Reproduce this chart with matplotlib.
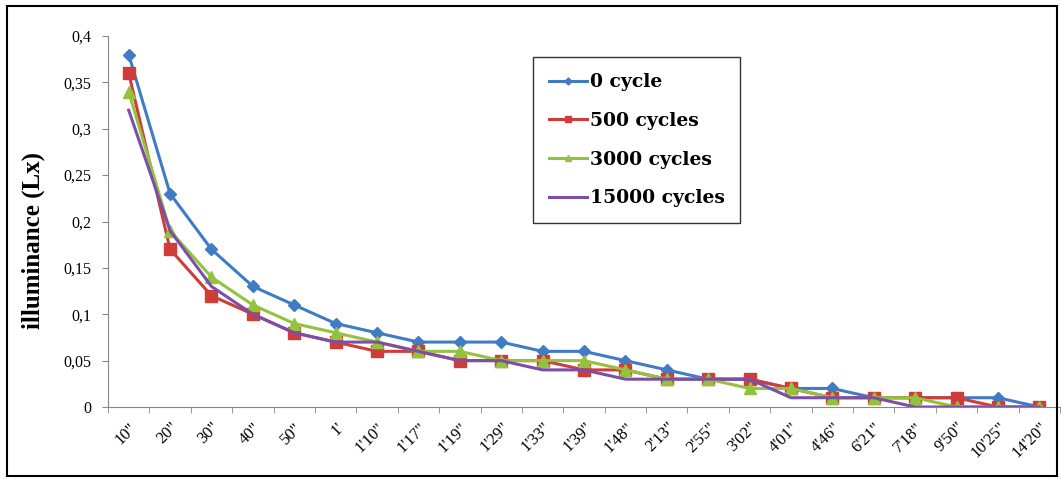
import matplotlib.pyplot as plt
from matplotlib.ticker import FuncFormatter, FixedLocator
from matplotlib.patches import Rectangle
import numpy as np

# time after switch-off
times = ['10"', '20"', '30"', '40"', '50"', "1'", "1'10\"", "1'17\"", "1'19\"", "1'29\"",
         "1'33\"", "1'39\"", "1'48\"", "2'13\"", "2'55\"", "3'02\"", "4'01\"", "4'46\"",
         "6'21\"", "7'18\"", "9'50\"", "10'25\"", "14'20\""]

cycle_0 = [0.38, 0.23, 0.17, 0.13, 0.11, 0.09, 0.08, 0.07, 0.07, 0.07, 0.06, 0.06,
           0.05, 0.04, 0.03, 0.03, 0.02, 0.02, 0.01, 0.01, 0.01, 0.01, 0.0]
cycle_500 = [0.36, 0.17, 0.12, 0.10, 0.08, 0.07, 0.06, 0.06, 0.05, 0.05, 0.05, 0.04,
             0.04, 0.03, 0.03, 0.03, 0.02, 0.01, 0.01, 0.01, 0.01, 0.0, 0.0]
cycle_3000 = [0.34, 0.19, 0.14, 0.11, 0.09, 0.08, 0.07, 0.06, 0.06, 0.05, 0.05, 0.05,
              0.04, 0.03, 0.03, 0.02, 0.02, 0.01, 0.01, 0.01, 0.0, 0.0, 0.0]
cycle_15000 = [0.32, 0.19, 0.13, 0.10, 0.08, 0.07, 0.07, 0.06, 0.05, 0.05, 0.04, 0.04,
               0.03, 0.03, 0.03, 0.03, 0.01, 0.01, 0.01, 0.0, 0.0, 0.0, 0.0]

serif = 'Liberation Serif'

fig = plt.figure(figsize=(10.61, 4.79), dpi=100)
ax = fig.add_axes([108/1061, 1 - 407/479, 952/1061, 371/479])

x = np.arange(len(times))
ax.plot(x, cycle_0, color='#3f7cc4', lw=2.2, marker='D', ms=6, label='0 cycle')
ax.plot(x, cycle_500, color='#d03c3a', lw=2.2, marker='s', ms=8, label='500 cycles')
ax.plot(x, cycle_3000, color='#93c23c', lw=2.2, marker='^', ms=8, label='3000 cycles')
ax.plot(x, cycle_15000, color='#7b4fa8', lw=2.2, label='15000 cycles')

ax.set_xlim(-0.5, len(times) - 0.5)
ax.set_ylim(0, 0.4)
ax.set_yticks(np.arange(0, 0.401, 0.05))
ax.yaxis.set_major_formatter(FuncFormatter(lambda v, p: ('%g' % round(v, 2)).replace('.', ',')))
ax.set_xticks(x)
ax.set_xticklabels(times, rotation=45, ha='right', rotation_mode='anchor', fontsize=12,
                   family=serif)
ax.xaxis.set_minor_locator(FixedLocator(np.arange(-0.5, len(times), 1)))
ax.tick_params(axis='x', which='major', length=0, pad=9)
ax.tick_params(axis='x', which='minor', length=4, color='#888888')
ax.tick_params(axis='y', length=4, color='#888888', labelsize=11.5, pad=8)
for lab in ax.get_yticklabels():
    lab.set_family(serif)

for s in ['top', 'right']:
    ax.spines[s].set_visible(False)
for s in ['left', 'bottom']:
    ax.spines[s].set_color('#888888')

ax.set_ylabel('illuminance (Lx)', fontsize=18, fontweight='bold', family=serif)
ax.yaxis.set_label_coords(-0.066, 0.45)

leg = ax.legend(loc='upper left', bbox_to_anchor=(416/952, 1 - 12/371),
                prop={'family': 'DejaVu Serif', 'weight': 'bold', 'size': 13.5},
                frameon=True, fancybox=False, labelspacing=1.1, handlelength=2.0,
                handletextpad=0.15, borderpad=0.85, markerscale=0.6)
leg.get_frame().set_edgecolor('black')
leg.get_frame().set_linewidth(1.0)

fig.patches.append(Rectangle((7/1061, 3/479), 1050/1061, 470/479, transform=fig.transFigure,
                             fill=False, edgecolor='black', lw=1.5))

fig.savefig('out.png', dpi=100)
